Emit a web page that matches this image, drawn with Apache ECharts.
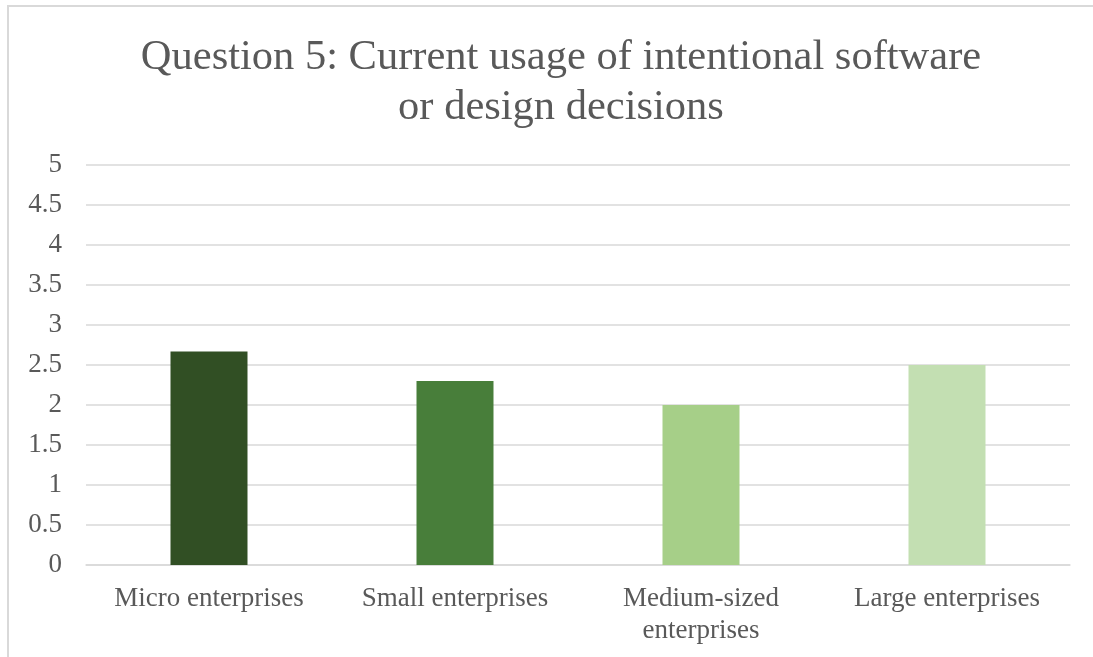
<!DOCTYPE html>
<html><head><meta charset="utf-8">
<script src="https://cdn.jsdelivr.net/npm/echarts@6/dist/echarts.min.js"></script>
<style>html,body{margin:0;padding:0;background:#fff}#c{width:1093px;height:657px}</style>
</head><body><div id="c"></div>
<script>
const categories = ['Micro enterprises', 'Small enterprises', 'Medium-sized\nenterprises', 'Large enterprises'];
const values = [2.67, 2.3, 2.0, 2.5];
const barColors = ['#314F24', '#487E3A', '#A6CF88', '#C3DFB2'];
const titleText = 'Question 5: Current usage of intentional software\nor design decisions';

const chart = echarts.init(document.getElementById('c'));
const font = '"Liberation Serif", "Times New Roman", serif';
chart.setOption({
  animation: false,
  graphic: [{
    type: 'rect', shape: {x: 8, y: 6, width: 1200, height: 800},
    style: {fill: 'none', stroke: '#D9D9D9', lineWidth: 2}, silent: true
  }],
  title: {
    text: titleText, left: 556, textAlign: 'center', top: 28,
    textStyle: {fontFamily: font, fontSize: 42.5, fontWeight: 'normal', color: '#595959', lineHeight: 50}
  },
  grid: {left: 86, right: 23, top: 165, bottom: 92, containLabel: false},
  xAxis: {
    type: 'category', data: categories,
    axisLine: {show: true, lineStyle: {color: '#D9D9D9', width: 1.5}},
    axisTick: {show: false},
    axisLabel: {fontFamily: font, fontSize: 27, color: '#595959', margin: 18, lineHeight: 32, interval: 0}
  },
  yAxis: {
    type: 'value', min: 0, max: 5, interval: 0.5,
    axisLine: {show: false}, axisTick: {show: false},
    splitLine: {lineStyle: {color: '#D9D9D9', width: 1.5}},
    axisLabel: {fontFamily: font, fontSize: 27, color: '#595959', margin: 24}
  },
  series: [{
    type: 'bar', barWidth: '31.3%',
    data: values.map((v, i) => ({value: v, itemStyle: {color: barColors[i]}}))
  }]
});
</script></body></html>
